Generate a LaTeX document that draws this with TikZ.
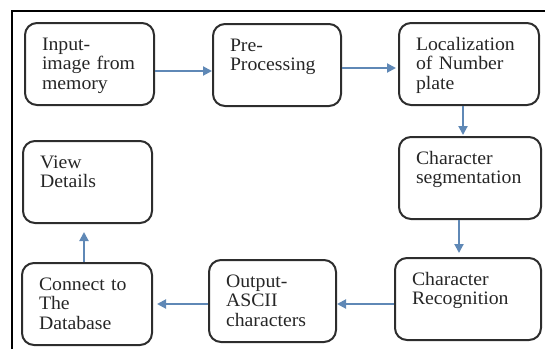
\documentclass[tikz,border=0pt]{standalone}
\usepackage{fontspec}
\setmainfont{Liberation Serif}[FakeStretch=1.04]
\usetikzlibrary{arrows.meta}
\definecolor{boxline}{RGB}{45,45,45}
\definecolor{arrowblue}{RGB}{95,136,182}
\tikzstyle{stage}=[draw=boxline, line width=2pt, rounded corners=12pt, anchor=north west,
  align=left, inner xsep=17pt, inner ysep=13pt, text height=14pt, text depth=42pt,
  font=\fontsize{19}{19.5}\selectfont, text=black!85]
\tikzstyle{flow}=[draw=arrowblue, line width=2pt, -{Triangle[length=9pt,width=9pt]}]

\begin{document}
\begin{tikzpicture}[x=1pt, y=-1pt]
      \useasboundingbox (0, 0) rectangle (545, 349);
      \draw[line width=2.5pt] (12, 349) -- (12, 11) -- (545, 11);
      \node[stage, text width=95pt] (input) at (24, 22) {Input-\\image from\\memory};
      \node[stage, text width=94pt] (pre) at (212, 23) {Pre-\\Processing};
      \node[stage, text width=106pt] (loc) at (398, 22) {Localization\\of Number\\plate};
      \node[stage, text width=108pt] (seg) at (398, 136) {Character\\segmentation};
      \node[stage, text width=112pt] (recog) at (394, 257) {Character\\Recognition};
      \node[stage, text width=93pt] (ascii) at (208, 259) {Output-\\ASCII\\characters};
      \node[stage, text width=96pt] (db) at (21, 262) {Connect to\\The\\Database};
      \node[stage, text width=95pt] (view) at (22, 140) {View\\Details};
      \draw[flow] ([yshift=-7pt]input.east)
        to ([yshift=-7pt]input.east -| pre.west);
      \draw[flow, shorten >=2pt] ([yshift=-3pt]pre.east)
        to ([yshift=-3pt]pre.east -| loc.west);
      \draw[flow, shorten >=1pt] ([xshift=-6pt]loc.south)
        to ([xshift=-6pt]loc.south |- seg.north);
      \draw[flow, shorten >=4pt] ([xshift=-11pt]seg.south)
        to ([xshift=-11pt]seg.south |- recog.north);
      \draw[flow] ([yshift=-5pt]recog.west)
        to ([yshift=-5pt]recog.west -| ascii.east);
      \draw[flow, shorten >=4pt] ([yshift=-3pt]ascii.west)
        to ([yshift=-3pt]ascii.west -| db.east);
      \draw[flow, shorten >=8pt] ([xshift=-3pt]db.north)
        to ([xshift=-3pt]db.north |- view.south);
\end{tikzpicture}
\end{document}
